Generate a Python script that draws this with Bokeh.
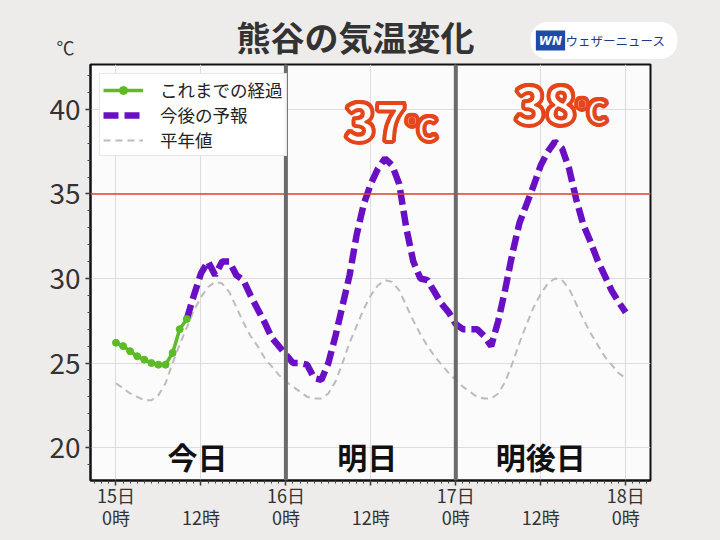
from bokeh.plotting import figure
from bokeh.layouts import column
from bokeh.models import Range1d, Span, Label, Legend, LegendItem, FixedTicker, Text
from bokeh.embed import file_html
from bokeh.resources import INLINE
from bokeh.core.properties import value

# ---------------- data ----------------
obs_hours = list(range(0, 11))
obs_temp = [26.2, 26.0, 25.7, 25.4, 25.2, 25.0, 24.9, 24.9, 25.6, 27.0, 27.6]

fc_hours = list(range(10, 73))
fc_temp = [27.6, 29.0, 30.3, 31.0, 30.2, 31.0, 31.0, 30.2, 29.9, 29.0,
           28.2, 27.4, 26.5, 26.0, 25.5, 25.0, 25.0, 24.9, 24.1, 24.0,
           25.0, 26.6, 28.4, 30.2, 32.6, 34.4, 35.6, 36.5, 37.1, 36.7,
           35.6, 33.0, 31.0, 30.0, 29.9, 29.2, 28.5, 28.0, 27.3, 27.0,
           27.0, 27.0, 26.6, 26.0, 27.5, 29.4, 31.5, 33.3, 34.4, 35.5,
           36.7, 37.5, 38.1, 37.7, 36.5, 34.7, 33.2, 32.2, 31.1, 30.2,
           29.3, 28.6, 28.0]

norm_hours = list(range(0, 73))
norm_temp = [23.8, 23.5, 23.2, 23.0, 22.8, 22.8, 23.1, 23.8, 25.0, 26.1,
             27.1, 28.1, 28.9, 29.5, 29.8, 29.7, 29.2, 28.3, 27.4, 26.6,
             26.0, 25.3, 24.8, 24.3,
             23.9, 23.6, 23.3, 23.0, 22.9, 22.9, 23.2, 23.9, 25.0, 26.2,
             27.2, 28.2, 29.0, 29.6, 29.9, 29.8, 29.3, 28.4, 27.5, 26.7,
             26.0, 25.4, 24.9, 24.4,
             24.0, 23.6, 23.3, 23.0, 22.9, 22.9, 23.2, 23.9, 25.0, 26.2,
             27.3, 28.3, 29.1, 29.7, 30.0, 29.9, 29.4, 28.5, 27.6, 26.8,
             26.1, 25.4, 24.9, 24.4,
             24.1]

x_ticks = [0, 12, 24, 36, 48, 60, 72]
x_tick_labels = ["15日\n0時", " \n12時", "16日\n0時", " \n12時", "17日\n0時", " \n12時", "18日\n0時"]
y_ticks = [20, 25, 30, 35, 40]
day_breaks = [24, 48]
day_names = ["今日", "明日", "明後日"]
day_centers = [11.5, 35.5, 60]
hot_line = 35
legend_labels = ["これまでの経過", "今後の予報", "平年値"]
title_text = "熊谷の気温変化"
brand_text = "ウェザーニュース"
unit_text = "℃"

JP = "Noto Sans CJK JP"
BG = "#eeecea"
HEADER_H = 62

# ---------------- header ----------------
h = figure(width=720, height=HEADER_H, output_backend="svg", toolbar_location=None,
           x_range=Range1d(0, 720), y_range=Range1d(HEADER_H, 0),
           x_axis_type=None, y_axis_type=None, min_border=0)
h.frame_align = False
h.background_fill_color = BG
h.border_fill_color = BG
h.outline_line_color = None
h.grid.visible = False
h.add_layout(Label(x=355, y=36, text=title_text, text_align="center", text_baseline="middle",
                   text_font=JP, text_font_style="bold", text_font_size="34px", text_color="#333333"))
h.add_layout(Label(x=65, y=46, text=unit_text, text_align="center", text_baseline="middle",
                   text_font=JP, text_font_size="18px", text_color="#333333"))
h.add_layout(Label(x=530, y=40, text=brand_text, text_align="left", text_baseline="middle",
                   text_font=JP, text_font_size="12.5px", text_color="#1d3a86",
                   background_fill_color="white", border_radius=17,
                   padding=dict(left=35, right=12, top=9, bottom=9)))
h.add_layout(Label(x=550, y=40, text="WN", text_align="center", text_baseline="middle",
                   text_font="DejaVu Sans", text_font_style="bold italic", text_font_size="12px",
                   text_color="white", background_fill_color="#1f4aa8", padding=3))

# ---------------- main plot ----------------
p = figure(width=720, height=540 - HEADER_H, output_backend="svg", toolbar_location=None,
           x_range=Range1d(-3.6, 75.5), y_range=Range1d(18.05, 42.66),
           min_border_left=90, min_border_right=70, min_border_top=2, min_border_bottom=60)
p.frame_align = False
p.background_fill_color = "#fcfbfb"
p.border_fill_color = BG
p.outline_line_color = "#111111"
p.outline_line_width = 2

p.xaxis.ticker = FixedTicker(ticks=x_ticks, minor_ticks=list(range(-3, 76)))
p.xaxis.major_label_overrides = {t: l for t, l in zip(x_ticks, x_tick_labels)}
p.yaxis.ticker = FixedTicker(ticks=y_ticks, minor_ticks=list(range(19, 43)))
for ax in (p.xaxis, p.yaxis):
    ax.axis_line_color = "#111111"
    ax.axis_line_width = 2
    ax.major_tick_in = 0
    ax.major_tick_out = 5
    ax.minor_tick_in = 0
    ax.minor_tick_out = 3
    ax.major_tick_line_color = "#333333"
    ax.major_tick_line_width = 1.5
    ax.minor_tick_line_color = "#444444"
    ax.major_label_text_font = JP
    ax.major_label_text_color = "#333333"
p.yaxis.major_label_text_font_size = "28px"
p.yaxis.major_label_standoff = 5
p.xaxis.major_label_text_font_size = "18px"
p.xaxis.major_label_standoff = -4
p.xaxis.major_label_text_line_height = 0.85

p.xgrid.ticker = FixedTicker(ticks=x_ticks)
p.ygrid.ticker = FixedTicker(ticks=y_ticks)
p.grid.grid_line_color = "#dcdcdc"
p.grid.grid_line_width = 1

p.add_layout(Span(location=hot_line, dimension="width", line_color="#d84a2c", line_width=1.5))
for d in day_breaks:
    p.add_layout(Span(location=d, dimension="height", line_color="#6b6b6b", line_width=4))

r_norm = p.line(norm_hours, norm_temp, line_color="#bcbcbc", line_width=2, line_dash="7 5")
r_fc = p.line(fc_hours, fc_temp, line_color="#6a10c4", line_width=6.5, line_dash="15 6")
r_obs = p.line(obs_hours, obs_temp, line_color="#5cbb26", line_width=3.5)
r_obs_pts = p.scatter(obs_hours, obs_temp, size=7, color="#5cbb26")

legend = Legend(items=[LegendItem(label=legend_labels[0], renderers=[r_obs, r_obs_pts]),
                       LegendItem(label=legend_labels[1], renderers=[r_fc]),
                       LegendItem(label=legend_labels[2], renderers=[r_norm])],
                location="top_left")
legend.margin = 9
legend.padding = 3
legend.spacing = 0
legend.glyph_width = 40
legend.glyph_height = 20
legend.label_height = 20
legend.label_standoff = 17
legend.label_text_font = JP
legend.label_text_font_size = "17.5px"
legend.label_text_color = "#222222"
legend.border_line_color = "#d0d0d0"
legend.background_fill_color = "white"
legend.background_fill_alpha = 0.95
p.add_layout(legend)

p.text(x=day_centers, y=[19.5] * 3, text=day_names, text_align="center", text_baseline="middle",
       text_font=value(JP), text_font_style="bold", text_font_size="30px", text_color="#111111")

# peak labels, computed from the forecast data
ORANGE = "#e4451b"
has_outline = "text_outline_color" in Text.properties()
offs = [(-2, 0), (2, 0), (0, -2), (0, 2), (-1.5, -1.5), (1.5, -1.5), (-1.5, 1.5), (1.5, 1.5)]
for day in (1, 2):
    idx = [i for i, hh in enumerate(fc_hours) if day * 24 <= hh < (day + 1) * 24]
    k = max(idx, key=lambda i: fc_temp[i])
    ph, pt = fc_hours[k], fc_temp[k]
    num = str(int(round(pt)))
    xr = ph + 3.0
    yd = pt + 2.2
    for txt, al, fs, dy in ((num, "right", "52px", 0.0), ("℃", "left", "31px", -0.3)):
        base = dict(text_align=al, text_baseline="middle", text_font=value(JP),
                    text_font_style="bold", text_font_size=fs)
        extra = dict(text_outline_color=ORANGE) if has_outline else {}
        p.text(x=[xr] * len(offs), y=[yd + dy] * len(offs), text=[txt] * len(offs),
               x_offset=[o[0] for o in offs], y_offset=[o[1] for o in offs],
               text_color=ORANGE, **extra, **base)
        p.text(x=[xr], y=[yd + dy], text=[txt], text_color="white", **extra, **base)

html = file_html(column(h, p, spacing=0), INLINE)
html = html.replace("</head>", "<style>html,body{margin:0;padding:0;background:%s}</style></head>" % BG, 1)
open("out.html", "w").write(html)
